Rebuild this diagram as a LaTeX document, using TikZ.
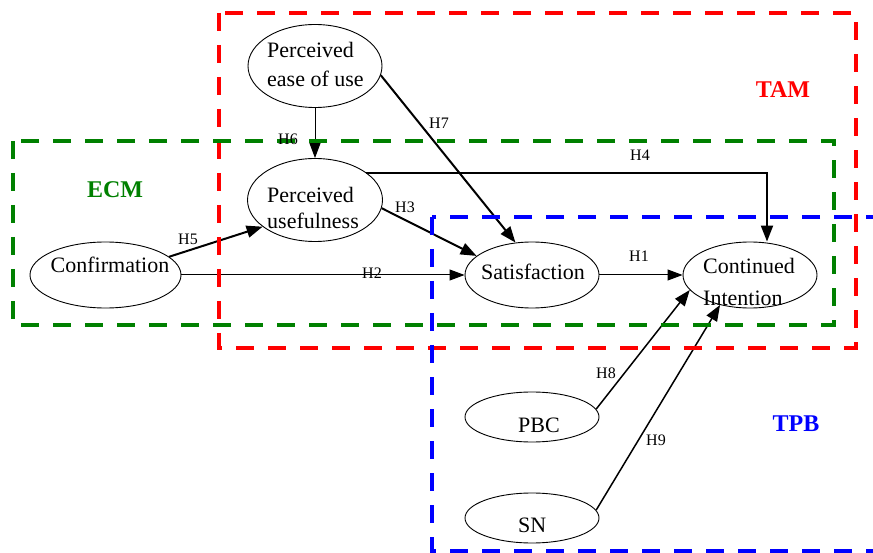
\documentclass[tikz,border=0pt]{standalone}
\usepackage{fontspec}
\setmainfont{Liberation Serif}
\usetikzlibrary{arrows.meta,shapes.geometric}
\definecolor{ecmgreen}{RGB}{0,128,0}
\begin{document}
\begin{tikzpicture}[x=1pt,y=-1pt,
  ell/.style={draw, ellipse, inner sep=0pt, line width=0.9pt},
  txt/.style={font=\fontsize{22}{27}\selectfont, inner sep=0pt},
  hl/.style={font=\fontsize{16}{19}\selectfont, inner sep=0pt},
  thinarr/.style={draw, line width=1pt, -{Triangle[length=15pt,width=11pt]}},
  midarr/.style={draw, line width=1.5pt, -{Triangle[length=16pt,width=12pt]}},
  thickarr/.style={draw, line width=2pt, -{Triangle[length=16pt,width=12pt]}},
  grp/.style={dash pattern=on 18pt off 14pt, line width=4pt},
  grplabel/.style={font=\bfseries\fontsize{24}{28}\selectfont, inner sep=0pt}
]
\useasboundingbox (0,0) rectangle (873,553);
\clip (0,0) rectangle (873,553);

% ellipses
\node[ell, minimum width=134pt, minimum height=83pt] (peou) at (315,66) {};
\node[ell, minimum width=135pt, minimum height=83pt] (pu) at (315,200) {};
\node[ell, minimum width=151pt, minimum height=66pt] (conf) at (105.5,275) {};
\node[ell, minimum width=134pt, minimum height=66pt] (sat) at (532,275) {};
\node[ell, minimum width=134pt, minimum height=66pt] (ci) at (750,275) {};
\node[ell, minimum width=134pt, minimum height=50pt] (pbc) at (532,417) {};
\node[ell, minimum width=134pt, minimum height=50pt] (sn) at (532,518) {};

% texts
\node[txt, anchor=base west] (t1) at (267,57.5) {Perceived};
\node[txt, anchor=base west] (t2) at (267,87) {ease of use};
\node[txt, anchor=base west] (t3) at (267,203) {Perceived};
\node[txt, anchor=base west] (t4) at (267,229) {usefulness};
\node[txt, anchor=base] (t5) at (110,273) {Confirmation};
\node[txt, anchor=base] (t6) at (533,280) {Satisfaction};
\node[txt, anchor=base west] (t7) at (703,274) {Continued};
\node[txt, anchor=base west] (t8) at (703,306) {Intention};
\node[txt, anchor=base west] (t9) at (518,432) {PBC};
\node[txt, anchor=base west] (t10) at (518,532) {SN};

% connectors
\draw[thinarr] (peou.south) -- (pu.north);
\draw[thickarr] (peou.-8) -- (sat.117);
\draw[thickarr] (pu.-7) -- (sat.161);
\draw[thickarr] (pu.28) -| ([xshift=17pt]ci.north);
\draw[thickarr] (conf.16) -- (pu.207);
\draw[thinarr] (conf.east) -- (sat.west);
\draw[thinarr] (sat.east) -- (ci.west);
\draw[midarr] (pbc.7) -- (ci.194);
\draw[midarr] (sn.7) -- (ci.225);

% groups
\draw[grp, red] (219,13) rectangle (856,348);
\draw[grp, ecmgreen] (13,141) rectangle (834,325);
\draw[grp, blue] (432,217) rectangle (900,551);

% group labels
\node[grplabel, text=red] (tam) at (783,90) {TAM};
\node[grplabel, text=ecmgreen] (ecm) at (115,190) {ECM};
\node[grplabel, text=blue] (tpb) at (796,424) {TPB};

% hypothesis labels
\node[hl] (h1) at (639,256) {H1};
\node[hl] (h2) at (372,273) {H2};
\node[hl] (h3) at (405,207) {H3};
\node[hl] (h4) at (640,155) {H4};
\node[hl] (h5) at (188,239) {H5};
\node[hl] (h6) at (288,139) {H6};
\node[hl] (h7) at (439,123) {H7};
\node[hl] (h8) at (606,373) {H8};
\node[hl] (h9) at (656,440) {H9};
\end{tikzpicture}
\end{document}
